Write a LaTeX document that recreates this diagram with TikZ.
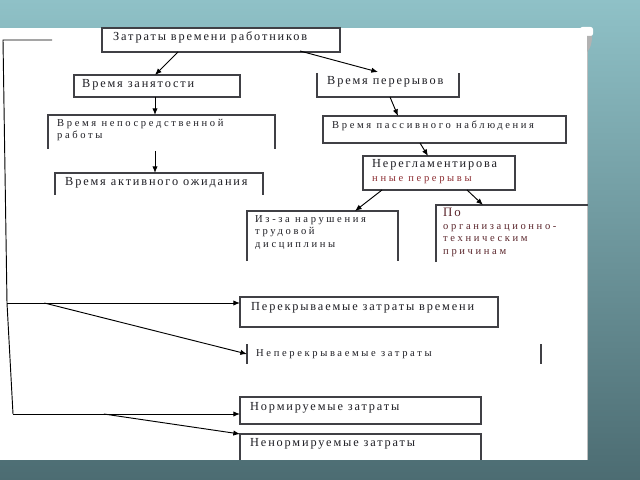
\documentclass[tikz,border=0pt]{standalone}
\usepackage{fontspec}
\setmainfont{Liberation Serif}[LetterSpace=15]
\newfontfamily\thinserif{Liberation Serif}[LetterSpace=25]
\usetikzlibrary{arrows.meta,positioning,calc,fit}
\definecolor{lagoon}{RGB}{143,193,199}
\definecolor{lagoonmid}{RGB}{112,160,167}
\definecolor{deep}{RGB}{76,108,114}
\definecolor{ink}{RGB}{30,30,36}
\definecolor{rust}{RGB}{140,45,50}
\tikzset{
  >={Latex[length=2mm,width=1.6mm]},
  box/.style={fit={#1},inner sep=0pt,outer sep=0pt,draw=ink!85,line width=1.1pt},
  shell/.style={fit={#1},inner sep=0pt,outer sep=0pt},
  rim/.style={draw=ink!85,line width=1.1pt},
  txt/.style={anchor=north west,inner sep=0pt,align=left,text=ink,
    font=\fontsize{10.5}{12}\selectfont},
  fine/.style={txt,font=\thinserif\fontsize{9}{10.7}\selectfont},
  link/.style={->,draw=black,line width=0.8pt},
}

\begin{document}
\begin{tikzpicture}[x=0.03cm,y=-0.03cm]
  \useasboundingbox (0,0) rectangle (640,480);
  \shade[top color=lagoon,middle color=lagoonmid,bottom color=deep] (0,0) rectangle (640,480);
  \fill[white] (0,28) rectangle (587,460);
  \draw[black!25,line width=0.6pt] (587.5,36) -- (587.5,460);
  % page curl
  \fill[white,rounded corners=2pt] (580,27) rectangle (593,36);
  \fill[black!30] (587,36) -- (592,36) .. controls (592,44) and (590,49) .. (587,52) -- cycle;

  \node[box={(102,28) (340,52)}] (cost) {};
  \node[box={(74,75) (240,97)}] (busy) {};
  \node[shell={(317,73) (459,97)}] (brk) {};
  \node[shell={(48,115) (275,149)}] (direct) {};
  \node[box={(323,116) (566,143)}] (passive) {};
  \node[shell={(55,173) (263,195)}] (wait) {};
  \node[box={(363,156) (515,190)}] (irr) {};
  \node[shell={(247,211) (398,261)}] (disc) {};
  \node[shell={(436,205) (588,262)}] (org) {};
  \node[box={(240,297) (498,327)}] (ovl) {};
  \node[shell={(247,344) (541,364)}] (nonovl) {};
  \node[box={(240,397) (481,424)}] (nrm) {};
  \node[shell={(240,434) (481,460)}] (unnrm) {};

  \draw[rim] (brk.north west) -- (brk.south west) -- (brk.south east) -- (brk.north east);
  \foreach \n in {direct,wait,disc,unnrm}
    \draw[rim] (\n.south west) |- (\n.north east) -- (\n.south east);
  \draw[rim] (org.south west) |- (org.north east);
  \draw[rim] (nonovl.north west) -- (nonovl.south west) (nonovl.north east) -- (nonovl.south east);

  \node[txt] (cost-t) at (113,31) {Затраты времени работников};
  \node[txt] (busy-t) at (82,79) {Время занятости};
  \node[txt] (brk-t) at (327,76) {Время перерывов};
  \node[fine] (direct-t) at (57,119) {Время непосредственной\\работы};
  \node[fine] (passive-t) at (332,121) {Время пассивного наблюдения};
  \node[txt] (wait-t) at (65,177) {Время активного ожидания};
  \node[txt] (irr-t) at (372,159) {Нерегламентирова\\{\color{rust}\thinserif\fontsize{9}{11}\selectfont нные перерывы}};
  \node[fine] (disc-t) at (255,215) {Из-за нарушения\\трудовой\\дисциплины};
  \node[fine,text=rust!55!ink] (org-t) at (443,208) {{\rmfamily\fontsize{11}{12}\selectfont По}\\организационно-\\техническим\\причинам};
  \node[txt] (ovl-t) at (251,302) {Перекрываемые затраты времени};
  \node[fine] (nonovl-t) at (256,349) {Неперекрываемые затраты};
  \node[txt] (nrm-t) at (250,402) {Нормируемые затраты};
  \node[txt] (unnrm-t) at (250,438) {Ненормируемые затраты};

  \draw[link] ($(cost.south west)+(76,0)$) -- ($(busy.north west)+(81,0)$);
  \draw[link] ($(cost.south west)+(198,-1)$) -- ($(brk.north west)+(61,-1)$);
  \draw[link] ($(busy.south west)+(81,0)$) -- ($(direct.north west)+(107,0)$);
  \draw[link] ($(brk.south west)+(73,0)$) -- ($(passive.north west)+(75,0)$);
  \draw[link] ($(direct.south west)+(107,2)$) -- ($(wait.north west)+(100,0)$);
  \draw[link] ($(passive.south west)+(97,0)$) -- ($(irr.north west)+(65,0)$);
  \draw[link] ($(irr.south west)+(19,0)$) -- ($(disc.north west)+(108,0)$);
  \draw[link] ($(irr.south west)+(104,0)$) -- ($(org.north west)+(47,0)$);

  \coordinate (top) at (52,40);
  \coordinate (corner) at (3,40);
  \coordinate (kink) at (7,303);
  \coordinate (foot) at (13,414);
  \draw[link,-] (top) -- (corner) -- (kink) -- (foot);
  \draw[link] (kink) -- (kink -| ovl.west);
  \draw[link] ($(kink)!0.16!(kink -| ovl.west)$) -- (nonovl.west);
  \draw[link] (foot) -- (foot -| nrm.west);
  \draw[link] ($(foot)!0.4!(foot -| nrm.west)$) -- (unnrm.north west);
\end{tikzpicture}
\end{document}
